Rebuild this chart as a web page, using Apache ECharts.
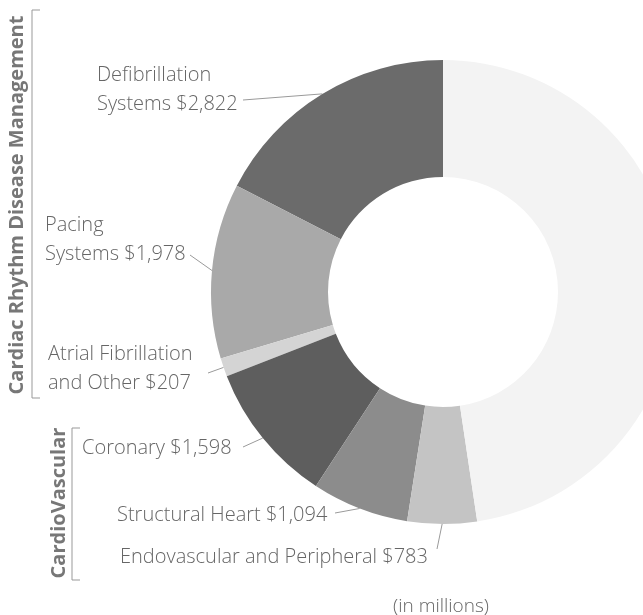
<!DOCTYPE html>
<html>
<head>
<meta charset="utf-8">
<script src="https://cdn.jsdelivr.net/npm/echarts@6/dist/echarts.min.js"></script>
<style>
  html, body { margin: 0; padding: 0; background: #fff; }
  #chart { width: 643px; height: 615px; }
</style>
</head>
<body>
<div id="chart"></div>
<script>
  // segment names and values (in millions), counterclockwise from 12 o'clock
  var names = ['Defibrillation\nSystems', 'Pacing\nSystems', 'Atrial Fibrillation\nand Other',
               'Coronary', 'Structural Heart', 'Endovascular and Peripheral', 'Other'];
  var values = [2822, 1978, 207, 1598, 1094, 783, 7718];
  var colors = ['#6b6b6b', '#a9a9a9', '#d4d4d4', '#5e5e5e', '#8c8c8c', '#c4c4c4', '#f3f3f3'];

  // where each label goes: [x of text left, y of text middle, x end of leader, y end of leader]
  var labelSpots = [
    [97, 90, 243, 100],
    [45, 240, 190, 255],
    [48, 369, 208, 373],
    [82, 448, 243, 447],
    [117, 515, 335, 513],
    [120, 557, 437, 549]
  ];

  var font = '"Open Sans", "Noto Sans", sans-serif';
  var chart = echarts.init(document.getElementById('chart'));

  var data = names.map(function (n, i) {
    var d = { name: n, value: values[i], itemStyle: { color: colors[i] } };
    if (i === names.length - 1) {
      d.label = { show: false };
      d.labelLine = { show: false };
    }
    return d;
  });

  var option = {
    animation: false,
    series: [{
      type: 'pie',
      center: [443, 292],
      radius: [115, 232],
      startAngle: 90,
      clockwise: false,
      avoidLabelOverlap: false,
      silent: true,
      data: data,
      label: {
        show: true,
        position: 'outside',
        fontFamily: font,
        fontWeight: 300,
        fontSize: 20,
        lineHeight: 29,
        color: '#666',
        formatter: function (p) {
          return p.name + ' $' + p.value.toLocaleString('en-US');
        }
      },
      labelLine: {
        show: true,
        length: 10,
        length2: 10,
        lineStyle: { color: '#9a9a9a', width: 1 }
      },
      labelLayout: function (params) {
        var s = labelSpots[params.dataIndex];
        if (!s) return {};
        var out = { x: s[0], y: s[1], align: 'left', verticalAlign: 'middle' };
        if (params.labelLinePoints) {
          var p0 = params.labelLinePoints[0];
          out.labelLinePoints = [p0, [s[2], s[3]], [s[2], s[3]]];
        }
        return out;
      }
    }],
    graphic: [
      // Cardiac Rhythm Disease Management bracket
      { type: 'polyline', shape: { points: [[40, 10], [32, 10], [32, 398], [40, 398]] },
        style: { stroke: '#999', lineWidth: 1, fill: null } },
      { type: 'text', x: 17, y: 205, rotation: Math.PI / 2,
        style: { text: 'Cardiac Rhythm Disease Management', fill: '#777', font: 'bold 20px ' + font,
                 align: 'center', verticalAlign: 'middle' } },
      // CardioVascular bracket
      { type: 'polyline', shape: { points: [[80, 428], [72, 428], [72, 580], [80, 580]] },
        style: { stroke: '#999', lineWidth: 1, fill: null } },
      { type: 'text', x: 59, y: 503, rotation: Math.PI / 2,
        style: { text: 'CardioVascular', fill: '#777', font: 'bold 20px ' + font,
                 align: 'center', verticalAlign: 'middle' } },
      { type: 'text', x: 441, y: 607,
        style: { text: '(in millions)', fill: '#666', font: '300 19px ' + font,
                 align: 'center', verticalAlign: 'middle' } }
    ]
  };
  chart.setOption(option);
</script>
</body>
</html>
